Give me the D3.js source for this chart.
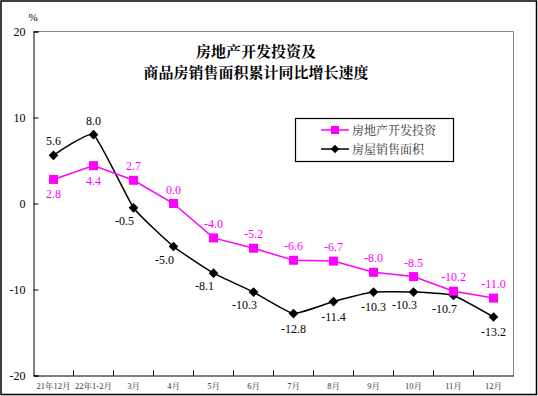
<!DOCTYPE html>
<html>
<head>
<meta charset="utf-8">
<script src="https://cdn.jsdelivr.net/npm/d3@7"></script>
<style>
  body { margin: 0; background: #fff; }
  svg { display: block; }
  text { font-family: "Liberation Serif", "Noto Serif CJK SC", "Noto Sans CJK SC", serif; }
</style>
</head>
<body>
<svg id="chart" width="538" height="396"></svg>
<script>
const months = ['21年12月', '22年1-2月', '3月', '4月', '5月', '6月', '7月', '8月', '9月', '10月', '11月', '12月']
const investment = [2.8, 4.4, 2.7, 0.0, -4.0, -5.2, -6.6, -6.7, -8.0, -8.5, -10.2, -11.0]
const salesArea = [5.6, 8.0, -0.5, -5.0, -8.1, -10.3, -12.8, -11.4, -10.3, -10.3, -10.7, -13.2]
const yTicks = [20, 10, 0, -10, -20]
const seriesNames = ['房地产开发投资', '房屋销售面积']
const titleLines = ['房地产开发投资及', '商品房销售面积累计同比增长速度']

// label placement per point: 'a' above, 'b' below, 'bl' below-left
const investmentPos = ['b', 'b', 'a', 'a', 'a', 'a', 'a', 'a', 'a', 'a', 'a', 'a']
const salesPos = ['a', 'a', 'bl', 'bl', 'bl', 'bl', 'b', 'b', 'b', 'bl', 'bl', 'b']

const magenta = '#ff00ff'
const svg = d3.select('#chart')
const margin = { left: 33.5, right: 24.5, top: 31.5, bottom: 20.5 }
const W = 538, H = 396

// plain hyphen instead of unicode minus
const fmt1 = (d) => d3.format('.1f')(d).replace('−', '-')
const fmt0 = (d) => d3.format('d')(d).replace('−', '-')

svg.append('rect')
  .attr('x', 1).attr('y', 1).attr('width', W - 2.5).attr('height', H - 2.5)
  .attr('fill', 'none').attr('stroke', '#000').attr('stroke-width', 1.5)

const x = d3.scaleBand().domain(months).range([margin.left, W - margin.right])
const y = d3.scaleLinear().domain([-20, 20]).range([H - margin.bottom, margin.top])
const cx = (d) => x(d) + x.bandwidth() / 2

// plot frame (top & right gray)
svg.append('path')
  .attr('d', `M${margin.left},${margin.top}H${W - margin.right}V${H - margin.bottom}`)
  .attr('fill', 'none').attr('stroke', '#888').attr('stroke-width', 1)

const yAxis = svg.append('g')
  .attr('transform', `translate(${margin.left},0)`)
  .call(d3.axisLeft(y).tickValues(yTicks).tickSize(-5).tickPadding(8).tickFormat(fmt0))
yAxis.select('.domain').attr('stroke', '#000')
yAxis.selectAll('text').attr('font-size', 12).attr('fill', '#000')

const xAxis = svg.append('g')
  .attr('transform', `translate(0,${H - margin.bottom})`)
  .call(d3.axisBottom(x).tickSize(0).tickPadding(7))
xAxis.select('.domain').attr('stroke', '#000')
xAxis.selectAll('text').attr('font-size', 8.5).attr('fill', '#333')

// category boundary ticks pointing up
svg.append('g').selectAll('line')
  .data(months.slice(1))
  .join('line')
  .attr('x1', (d) => x(d)).attr('x2', (d) => x(d))
  .attr('y1', H - margin.bottom).attr('y2', H - margin.bottom - 5)
  .attr('stroke', '#000')

svg.append('text')
  .attr('x', 33).attr('y', 21)
  .attr('text-anchor', 'middle').attr('font-size', 11)
  .text('%')

// title
svg.append('g').selectAll('text')
  .data(titleLines)
  .join('text')
  .attr('x', 256).attr('y', (d, i) => 57 + i * 21)
  .attr('text-anchor', 'middle')
  .attr('font-size', 15).attr('font-weight', 'bold')
  .style('font-family', '"Noto Serif CJK SC", "Noto Sans CJK SC", serif')
  .text((d) => d)

// lines
const lineStraight = d3.line().x((d, i) => cx(months[i])).y((d) => y(d))
const lineSmooth = d3.line().x((d, i) => cx(months[i])).y((d) => y(d)).curve(d3.curveCardinal.tension(0.6))

svg.append('path').datum(salesArea)
  .attr('d', lineSmooth).attr('fill', 'none').attr('stroke', '#000').attr('stroke-width', 1.5)
svg.append('path').datum(investment)
  .attr('d', lineStraight).attr('fill', 'none').attr('stroke', magenta).attr('stroke-width', 1.5)

const diamond = d3.symbol().type(d3.symbolDiamond2).size(60)

svg.append('g').selectAll('path')
  .data(salesArea)
  .join('path')
  .attr('d', diamond)
  .attr('transform', (d, i) => `translate(${cx(months[i])},${y(d)})`)
  .attr('fill', '#000')

svg.append('g').selectAll('rect')
  .data(investment)
  .join('rect')
  .attr('x', (d, i) => cx(months[i]) - 4.5).attr('y', (d) => y(d) - 4.5)
  .attr('width', 9).attr('height', 9)
  .attr('fill', magenta)

const labelOffset = (pos) => {
  if (pos === 'a') return [0, -10]
  if (pos === 'b') return [0, 19]
  return [-9, 17]
}

const addLabels = (values, positions, color) => {
  svg.append('g').selectAll('text')
    .data(values)
    .join('text')
    .attr('x', (d, i) => cx(months[i]) + labelOffset(positions[i])[0])
    .attr('y', (d, i) => y(d) + labelOffset(positions[i])[1])
    .attr('text-anchor', 'middle')
    .attr('font-size', 12)
    .attr('fill', color)
    .text(fmt1)
}

addLabels(investment, investmentPos, magenta)
addLabels(salesArea, salesPos, '#000')

// legend
const legend = svg.append('g')
legend.append('rect')
  .attr('x', 295.5).attr('y', 118.5).attr('width', 158).attr('height', 43)
  .attr('fill', '#fff').attr('stroke', '#000').attr('stroke-width', 1.2)

const legendColors = [magenta, '#000']
seriesNames.forEach((name, i) => {
  const ly = 130 + i * 19
  legend.append('line')
    .attr('x1', 321).attr('x2', 349).attr('y1', ly).attr('y2', ly)
    .attr('stroke', legendColors[i]).attr('stroke-width', 1.5)
  if (i === 0) {
    legend.append('rect')
      .attr('x', 331).attr('y', ly - 4).attr('width', 8).attr('height', 8)
      .attr('fill', magenta)
  } else {
    legend.append('path')
      .attr('d', d3.symbol().type(d3.symbolDiamond2).size(45))
      .attr('transform', `translate(335,${ly})`)
      .attr('fill', '#000')
  }
  legend.append('text')
    .attr('x', 352).attr('y', ly + 4.5)
    .attr('font-size', 12).attr('fill', '#333')
    .style('font-family', '"Noto Serif CJK SC", "Noto Sans CJK SC", serif')
    .text(name)
})
</script>
</body>
</html>
